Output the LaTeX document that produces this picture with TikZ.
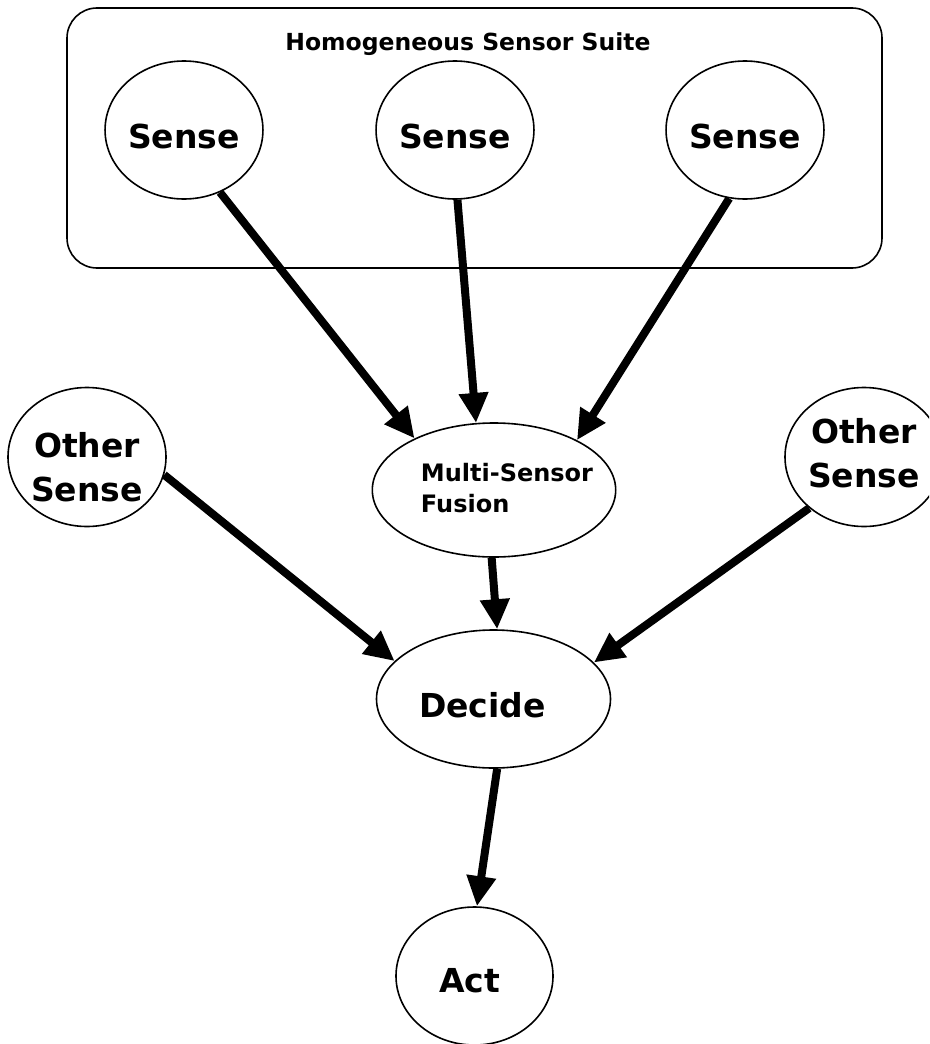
\documentclass[tikz,border=0pt]{standalone}
\usepackage{fontspec}
\setmainfont{DejaVu Sans}
\usetikzlibrary{shapes.geometric,arrows.meta}
\newcommand{\mv}[3]{\raisebox{#2}[\height][\depth]{\kern#1\hbox{#3}\kern-#1}}
\begin{document}
\begin{tikzpicture}[x=1pt,y=-1pt,
  bub/.style={draw=black,line width=1.6pt,ellipse,inner sep=0pt,
    font=\bfseries\fontsize{33}{44}\selectfont},
  suite/.style={draw=black,line width=1.6pt,rounded corners=30pt},
  title/.style={font=\bfseries\fontsize{23.5}{28}\selectfont,inner sep=0pt},
  flow/.style={line width=8pt,-{Triangle[length=30pt,width=28pt]}}]
\useasboundingbox (0,0) rectangle (929,1044);
\clip (0,0) rectangle (929,1044);
\fill[white] (0,0) rectangle (929,1044);

% suite box
\draw[suite] (67,8) rectangle (882,268);
\node[title] (ttl) at (468,44) {Homogeneous Sensor Suite};

% nodes
\node[bub,minimum width=156pt,minimum height=138pt] (s1) at (184,130) {\mv{0pt}{-6pt}{Sense}};
\node[bub,minimum width=156pt,minimum height=138pt] (s2) at (455,130) {\mv{0pt}{-6pt}{Sense}};
\node[bub,minimum width=156pt,minimum height=138pt] (s3) at (745,130) {\mv{0pt}{-6pt}{Sense}};
\node[bub,minimum width=158pt,minimum height=139pt] (ol) at (87,457)
  {\mv{0pt}{-14pt}{\begin{tabular}{@{}c@{}}Other\\Sense\end{tabular}}};
\node[bub,minimum width=158pt,minimum height=139pt] (or) at (864,457)
  {\mv{0pt}{0pt}{\begin{tabular}{@{}c@{}}Other\\Sense\end{tabular}}};
\node[bub,minimum width=234pt,minimum height=134pt,font=\bfseries\fontsize{24}{31}\selectfont] (fus) at (494,490)
  {\mv{13pt}{-1pt}{\begin{tabular}{@{}l@{}}Multi-Sensor\\Fusion\end{tabular}}};
\node[bub,minimum width=234pt,minimum height=138pt] (dec) at (493.5,699) {\mv{-11pt}{-6pt}{Decide}};
\node[bub,minimum width=157pt,minimum height=138pt] (act) at (474.5,976) {\mv{-5pt}{-5pt}{Act}};

% connectors
\draw[flow] (s1.-60) -- (fus.147.5);
\draw[flow] (s2.-88) -- (fus.105);
\draw[flow] (s3.-103) -- (fus.31);
\draw[flow] (ol.-13) -- (dec.159);
\draw[flow] (or.-137) -- (dec.20);
\draw[flow] (fus.-92) -- (dec.87);
\draw[flow] (dec.-87) -- (act.88);
\end{tikzpicture}
\end{document}
